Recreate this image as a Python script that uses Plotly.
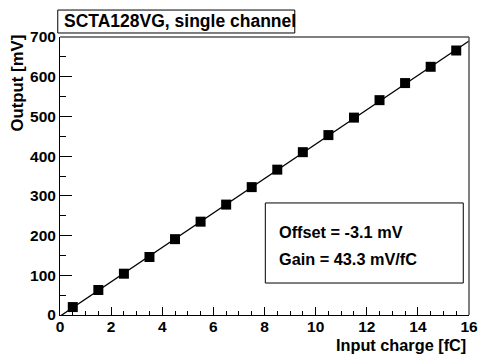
import numpy as np
import plotly.graph_objects as go

# data
charge_fc = [0.5, 1.5, 2.5, 3.5, 4.5, 5.5, 6.5, 7.5, 8.5, 9.5, 10.5, 11.5, 12.5, 13.5, 14.5, 15.5]
output_mv = [20, 63, 104, 146, 191, 235, 278, 322, 366, 410, 453, 497, 541, 584, 625, 666]
fit_offset = -3.1
fit_gain = 43.3
fit_range = [0, 16]

title_text = "SCTA128VG, single channel"
x_title = "Input charge [fC]"
y_title = "Output [mV]"

x_ticks = [0, 2, 4, 6, 8, 10, 12, 14, 16]
y_ticks = [0, 100, 200, 300, 400, 500, 600, 700]

FONT = "Liberation Sans, Arial, sans-serif"

fit_x = np.array(fit_range, dtype=float)
fit_y = fit_offset + fit_gain * fit_x

fig = go.Figure()
fig.add_trace(go.Scatter(x=fit_x, y=fit_y, mode="lines",
                         line=dict(color="black", width=1.3), showlegend=False, hoverinfo="skip"))
fig.add_trace(go.Scatter(x=charge_fc, y=output_mv, mode="markers",
                         marker=dict(symbol="square", size=10, color="black"), showlegend=False))

tickfont = dict(family=FONT, size=15.5, color="black")

def b(s):
    return f"<b>{s}</b>"

fig.update_layout(
    width=488, height=354,
    margin=dict(l=60, r=10, t=37, b=39),
    paper_bgcolor="white", plot_bgcolor="white",
    xaxis=dict(range=[0, 16], tickvals=x_ticks, ticktext=[b(v) for v in x_ticks],
               ticks="inside", ticklen=8, tickcolor="black", ticklabelstandoff=-3,
               tickwidth=1, showgrid=False, zeroline=False, showline=True, linecolor="black",
               linewidth=1, tickfont=tickfont,
               minor=dict(dtick=0.5, tick0=0, ticks="inside", ticklen=4, tickcolor="black", showgrid=False)),
    yaxis=dict(range=[0, 700], tickvals=y_ticks, ticktext=[b(v) for v in y_ticks],
               ticks="inside", ticklen=12, tickcolor="black",
               tickwidth=1, showgrid=False, zeroline=False, showline=True, linecolor="black",
               linewidth=1, tickfont=tickfont,
               minor=dict(dtick=50, tick0=0, ticks="inside", ticklen=6, tickcolor="black", showgrid=False)),
    shapes=[
        dict(type="line", xref="paper", yref="paper", x0=0, x1=1, y0=1, y1=1,
             line=dict(color="#555555", width=1.5)),
        dict(type="line", xref="paper", yref="paper", x0=1, x1=1, y0=0, y1=1,
             line=dict(color="#555555", width=1.5)),
        dict(type="rect", xref="paper", yref="paper", x0=-0.0055, x1=0.574, y0=1.0144, y1=1.097,
             line=dict(color="black", width=1), fillcolor="white"),
        dict(type="rect", xref="paper", yref="paper", x0=0.502, x1=0.986, y0=0.115, y1=0.403,
             line=dict(color="black", width=1), fillcolor="white", layer="above"),
    ],
    annotations=[
        dict(text=b(title_text), xref="paper", yref="paper", x=0.0045, y=1.0558,
             xanchor="left", yanchor="middle", showarrow=False,
             font=dict(family=FONT, size=17.5, color="black")),
        dict(text=b(y_title), xref="paper", yref="paper", x=-0.105, y=1.0144, textangle=-90,
             xanchor="center", yanchor="top", showarrow=False,
             font=dict(family=FONT, size=16.8, color="black")),
        dict(text=b(x_title), xref="paper", yref="paper", x=0.9976, y=-0.108,
             xanchor="right", yanchor="middle", showarrow=False,
             font=dict(family=FONT, size=16.3, color="black")),
        dict(text=b(f"Offset = {fit_offset} mV"), xref="paper", yref="paper", x=0.531, y=0.2986,
             xanchor="left", yanchor="middle", showarrow=False,
             font=dict(family=FONT, size=16.3, color="black")),
        dict(text=b(f"Gain = {fit_gain} mV/fC"), xref="paper", yref="paper", x=0.531, y=0.2014,
             xanchor="left", yanchor="middle", showarrow=False,
             font=dict(family=FONT, size=16.3, color="black")),
    ],
)

fig.write_html("out.html")
